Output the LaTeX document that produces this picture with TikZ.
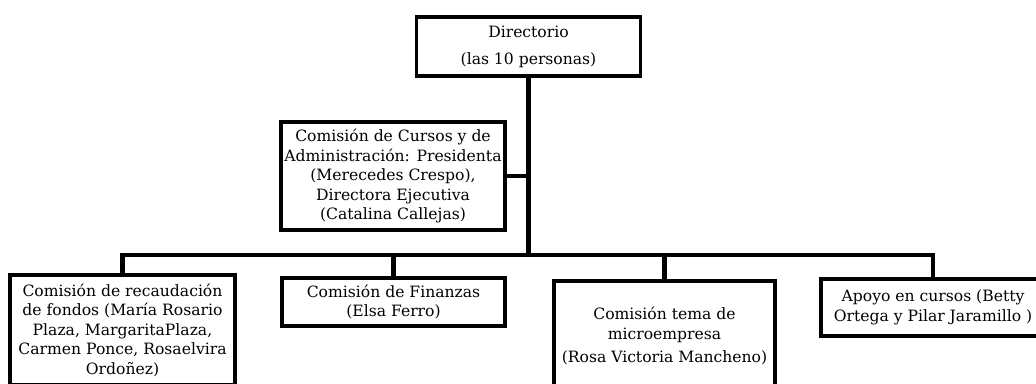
\documentclass[tikz,border=0pt]{standalone}
\usepackage{fontspec}
\setmainfont{DejaVu Serif}
\usetikzlibrary{shadows}

\tikzset{
  box/.style={draw,line width=3.8pt,fill=white,align=center,inner sep=1pt,
    minimum width=224pt,font=\fontsize{15.6}{19.5}\selectfont,
    drop shadow={shadow xshift=1.2pt,shadow yshift=-1.2pt,opacity=0.45,fill=black}},
  conn/.style={line width=4.4pt}
}

\begin{document}
\begin{tikzpicture}[x=1pt,y=-1pt]
\useasboundingbox (0,0) rectangle (1036,383);

  \node (dir) at (528.5,46.5) [box,minimum height=59pt,font=\fontsize{15.6}{27}\selectfont]
     {Directorio\\(las 10 personas)};
  \node (cursos) at (393,176) [box,minimum height=108pt]
     {Comisión de Cursos y de\\Administración: Presidenta\\(Merecedes Crespo),\\Directora Ejecutiva\\(Catalina Callejas)};
  \node (recaud) at (122.5,330) [box,minimum width=225pt,minimum height=110pt]
     {Comisión de recaudación\\de fondos (María Rosario\\Plaza, MargaritaPlaza,\\Carmen Ponce, Rosaelvira\\Ordoñez)};
  \node (finanzas) at (393.5,302) [box,minimum width=223pt,minimum height=48pt]
     {Comisión de Finanzas\\(Elsa Ferro)};
  \node (micro) at (664.5,336) [box,minimum width=221pt,minimum height=110pt]
     {Comisión tema de\\microempresa\\[4pt](Rosa Victoria Mancheno)};
  \node (apoyo) at (933,307.5) [box,minimum height=57pt]
     {Apoyo en cursos (Betty\\Ortega y Pilar Jaramillo )};

  \coordinate (bus) at (530,255);

\draw[conn] (dir.south) -- (dir.south |- bus);
\draw[conn] (cursos.east) -- (cursos.east -| dir.south);
\draw[conn,line cap=rect] (recaud.north) |- (bus) -| (apoyo.north);
\draw[conn] (finanzas.north) -- (finanzas.north |- bus)
   (micro.north) -- (micro.north |- bus);
\end{tikzpicture}
\end{document}
